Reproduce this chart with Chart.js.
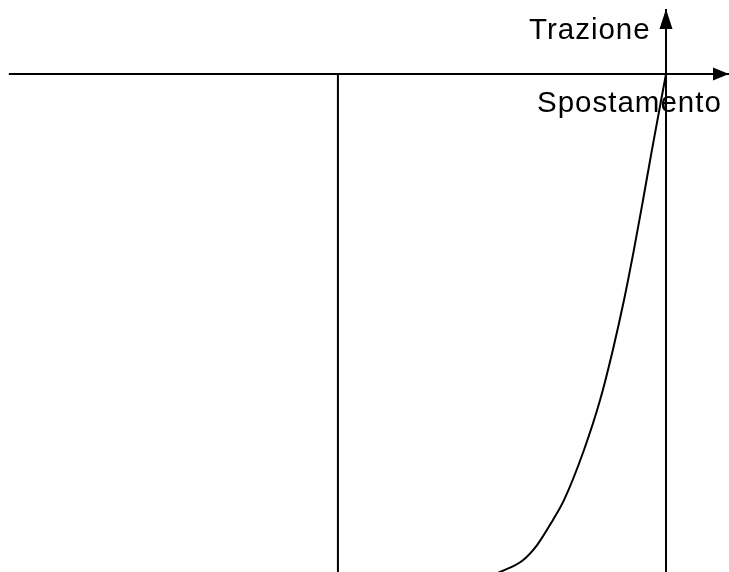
<!DOCTYPE html>
<html>
<head>
<meta charset="utf-8">
<script src="https://cdn.jsdelivr.net/npm/chart.js@4/dist/chart.umd.min.js"></script>
<style>
  html, body { margin: 0; padding: 0; background: #fff; }
  #wrap { width: 729px; height: 572px; }
</style>
</head>
<body>
<div id="wrap"><canvas id="c"></canvas></div>
<script>
// Displacement (x) and traction (y), units: vertical line at x = -1
const curveX = [-0.595, -0.506, -0.436, -0.393, -0.345, -0.311, -0.250, -0.201, -0.162, -0.128, -0.098, -0.070, -0.043, 0];
const curveY = [-1.555, -1.518, -1.482, -1.436, -1.360, -1.299, -1.146, -0.994, -0.841, -0.689, -0.537, -0.384, -0.232, 0];
const limitX = -1;                 // vertical line position
const axisXStart = -2.003;         // left end of horizontal axis
const axisYTop = 0.198;            // top end of vertical axis
const xRange = [-2.03, 0.192];
const yRange = [-1.518, 0.2256];
const labelY = 'Trazione';
const labelX = 'Spostamento';

const pts = (xs, ys) => xs.map((x, i) => ({ x, y: ys[i] }));

const arrowPlugin = {
  id: 'arrows',
  afterDatasetsDraw(chart) {
    const { ctx, scales: { x, y } } = chart;
    ctx.save();
    ctx.fillStyle = '#000';
    // right arrow on horizontal axis
    const rx = x.getPixelForValue(xRange[1]);
    const ry = y.getPixelForValue(0);
    ctx.beginPath();
    ctx.moveTo(rx, ry);
    ctx.lineTo(rx - 16, ry - 6.5);
    ctx.lineTo(rx - 16, ry + 6.5);
    ctx.closePath();
    ctx.fill();
    // top arrow on vertical axis
    const tx = x.getPixelForValue(0);
    const ty = y.getPixelForValue(axisYTop);
    ctx.beginPath();
    ctx.moveTo(tx, ty);
    ctx.lineTo(tx - 6.5, ty + 20);
    ctx.lineTo(tx + 6.5, ty + 20);
    ctx.closePath();
    ctx.fill();
    // labels
    ctx.font = '29.5px "Liberation Sans", Arial, sans-serif';
    ctx.letterSpacing = '1px';
    ctx.textBaseline = 'alphabetic';
    ctx.textAlign = 'left';
    ctx.fillText(labelY, tx - 137, ty + 30);
    ctx.fillText(labelX, tx - 129, ry + 38);
    ctx.restore();
  }
};

new Chart(document.getElementById('c'), {
  type: 'line',
  data: {
    datasets: [
      { data: [{ x: axisXStart, y: 0 }, { x: xRange[1], y: 0 }], borderColor: '#000', borderWidth: 2, pointRadius: 0, tension: 0 },
      { data: [{ x: 0, y: yRange[0] }, { x: 0, y: axisYTop }], borderColor: '#000', borderWidth: 2, pointRadius: 0, tension: 0 },
      { data: [{ x: limitX, y: 0 }, { x: limitX, y: yRange[0] }], borderColor: '#000', borderWidth: 2, pointRadius: 0, tension: 0 },
      { data: pts(curveX, curveY), borderColor: '#000', borderWidth: 2, pointRadius: 0, cubicInterpolationMode: 'monotone', capBezierPoints: false }
    ]
  },
  options: {
    responsive: true,
    maintainAspectRatio: false,
    animation: false,
    parsing: true,
    layout: { padding: 0 },
    plugins: { legend: { display: false }, tooltip: { enabled: false } },
    scales: {
      x: { type: 'linear', display: false, min: xRange[0], max: xRange[1] },
      y: { type: 'linear', display: false, min: yRange[0], max: yRange[1] }
    }
  },
  plugins: [arrowPlugin]
});
</script>
</body>
</html>
